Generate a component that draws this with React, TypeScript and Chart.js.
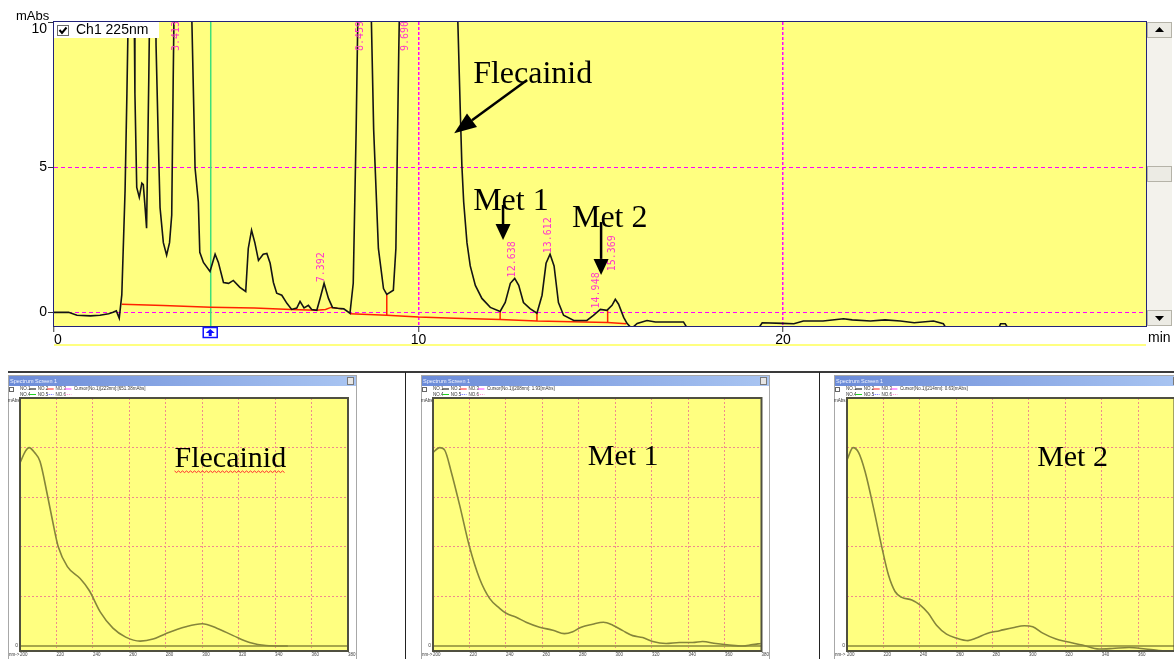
import React, { useEffect, useRef } from 'react';
import { Chart, registerables } from 'chart.js';

Chart.register(...registerables);

const YELLOW = '#ffff80';

// ================= Chromatogram, channel 1 (225 nm) =================
const retentionTimes = [
  0.0, 0.4, 0.63, 1.0, 1.26, 1.5, 1.62, 1.71, 1.79, 1.86,
  1.95, 2.0, 2.04, 2.12, 2.2, 2.22, 2.27, 2.34, 2.41, 2.45,
  2.5, 2.54, 2.6, 2.64, 2.72, 2.78, 2.8, 2.86, 2.91, 3.0,
  3.09, 3.17, 3.23, 3.27, 3.3, 3.42, 3.75, 3.78, 3.87, 3.96,
  4.0, 4.1, 4.28, 4.42, 4.51, 4.65, 4.79, 4.92, 5.1, 5.26,
  5.33, 5.42, 5.51, 5.61, 5.74, 5.84, 5.93, 6.02, 6.11, 6.25,
  6.39, 6.52, 6.66, 6.75, 6.86, 6.98, 7.07, 7.21, 7.3, 7.41,
  7.53, 7.64, 7.78, 7.95, 8.12, 8.21, 8.29, 8.34, 8.5, 8.7,
  8.77, 8.9, 9.04, 9.13, 9.31, 9.38, 9.46, 9.5, 9.7, 10.3,
  11.0, 11.08, 11.15, 11.19, 11.24, 11.33, 11.42, 11.56, 11.74, 11.97,
  12.24, 12.38, 12.52, 12.64, 12.75, 12.88, 13.06, 13.25, 13.39, 13.5,
  13.61, 13.72, 13.84, 13.98, 14.26, 14.62, 14.8, 14.99, 15.17, 15.31,
  15.4, 15.49, 15.63, 15.72, 15.85, 16.0, 16.27, 16.5, 17.27, 17.4,
  19.3, 19.43, 20.0, 20.3, 20.56, 21.1, 21.66, 21.9, 22.4, 22.8,
  23.22, 23.6, 24.13, 24.4, 24.5, 25.9, 25.97, 26.1, 26.2, 29.96,
];
const absorbance = [
  0.0, 0.0, -0.1, -0.12, -0.1, -0.05, 0.0, 0.05, -0.2, 0.6,
  4.2, 7.5, 10.5, 25, 10.5, 7.55, 4.3, 3.96, 4.45, 4.4,
  3.6, 2.9, 8, 12, 30, 12, 9.2, 6, 3.6, 2.4,
  1.97, 2.4, 3.35, 8, 11, 40, 12, 10.2, 4.97, 3.8,
  2.07, 1.72, 1.41, 2.0, 1.72, 1.03, 1.0, 1.1, 0.86, 0.72,
  2.2, 2.83, 2.4, 1.79, 2.0, 2.03, 1.69, 1.03, 0.66, 0.59,
  0.31, 0.1, 0.15, 0.38, 0.15, 0.24, 0.1, 0.07, 0.48, 1.0,
  0.48, 0.17, 0.14, 0.12, -0.03, 1.0, 6.3, 10.5, 40, 10.5,
  6.3, 2.2, 0.82, 0.62, 0.76, 2.2, 9.1, 12, 50, 60,
  15, 10, 6.8, 5.07, 3.8, 2.4, 1.6, 0.93, 0.48, 0.17,
  0.03, 0.34, 1.0, 1.17, 0.93, 0.34, 0.13, -0.03, 0.59, 1.69,
  2.0, 1.6, 0.34, -0.1, -0.28, -0.28, -0.1, 0.1, 0.07, 0.24,
  0.45, 0.28, -0.17, -0.38, -0.55, -0.38, -0.28, -0.33, -0.33, -0.6,
  -0.6, -0.36, -0.38, -0.39, -0.3, -0.3, -0.22, -0.26, -0.3, -0.26,
  -0.3, -0.36, -0.3, -0.39, -0.6, -0.6, -0.39, -0.39, -0.6, -0.6,
];

// integration baseline (null = break between baseline segments)
const baselineTimes = [1.86, 3.0, 4.3, 5.5, 6.5, 7.2, 7.45, 7.6, 7.9, 8.0, 8.12, 9.13, 10.0, 11.0, 12.24, 13.25, 14.2, 15.19, 15.7];
const baselineValues = [0.28, 0.24, 0.18, 0.15, 0.1, 0.07, 0.1, 0.17, 0.12, null, -0.05, -0.1, -0.16, -0.2, -0.25, -0.3, -0.32, -0.35, -0.39];

// peak start/end drop lines
const dropTimes = [9.13, 12.24, 13.25, 15.19];
const dropTops = [0.62, 0.03, -0.03, 0.07];
const dropBottoms = [-0.1, -0.25, -0.3, -0.35];

const cursorTime = 4.3;

// peak retention times and apex heights (>=10 = off scale)
const peakTimes = [3.413, 7.392, 8.459, 9.69, 12.638, 13.612, 14.948, 15.369];
const peakHeights = [10, 1.0, 10, 10, 1.17, 2.0, 0.1, 0.45];

const timeTicks = [0, 10, 20];
const absTicks = [0, 5, 10];

// annotations (text anchor + arrow from -> to, in min / mAbs)
const annotationLabels = ['Flecainid', 'Met 1', 'Met 2'];
const annotationTextT = [11.5, 11.5, 14.21];
const annotationTextV = [7.9, 3.53, 2.94];
const arrowFromT = [12.98, 12.32, 15.01];
const arrowFromV = [8.0, 3.7, 3.11];
const arrowToT = [10.98, 12.32, 15.01];
const arrowToV = [6.17, 2.49, 1.29];

// ================= UV spectra =================
const wavelengthsFlecainid = [200, 203, 205, 208, 211, 215, 218, 221, 226, 233, 238, 244, 251, 258, 266, 273, 280, 291, 300, 308, 317, 326, 335, 347];
const spectrumFlecainid = [3.69, 3.93, 4.0, 3.9, 3.72, 3.05, 2.5, 2.0, 1.6, 1.36, 1.12, 0.69, 0.36, 0.18, 0.1, 0.14, 0.25, 0.39, 0.45, 0.36, 0.21, 0.07, 0.01, 0.0];

const wavelengthsMet1 = [200, 203.6, 206.4, 210, 214.6, 220, 225.5, 231, 236.5, 240.1, 245.6, 251, 258.4, 265.7, 272, 276.6, 281.2, 287.5, 293.4, 298.5, 304, 309.4, 314.9, 320.4, 327.7, 335, 342.3, 347.7, 355, 362.3, 369.6, 375.1, 379.6];
const spectrumMet1 = [3.9, 4.0, 3.95, 3.51, 2.84, 2.0, 1.36, 0.96, 0.76, 0.66, 0.58, 0.48, 0.38, 0.32, 0.25, 0.29, 0.38, 0.44, 0.48, 0.42, 0.31, 0.21, 0.17, 0.09, 0.05, 0.07, 0.07, 0.09, 0.05, 0.02, 0.0, 0.03, 0.05];

const wavelengthsMet2 = [200, 203.3, 206.4, 210, 214.6, 219.1, 222.8, 226.4, 230.1, 235.6, 240.1, 244.7, 249.2, 254.7, 260.2, 266.5, 271.1, 276.6, 283.9, 291.2, 297.5, 302.1, 307.6, 314.9, 320.3, 329.4, 338.6, 345.9, 355, 364.1, 371.4, 378.7];
const spectrumMet2 = [3.75, 4.0, 3.9, 3.51, 2.78, 2.0, 1.43, 1.1, 0.98, 0.93, 0.83, 0.66, 0.42, 0.24, 0.16, 0.11, 0.16, 0.25, 0.31, 0.37, 0.41, 0.39, 0.26, 0.14, 0.09, 0.02, -0.06, -0.05, -0.03, -0.06, -0.09, -0.1];

const nmTicks = [200, 220, 240, 260, 280, 300, 320, 340, 360, 380];
const spectrumAbsTicks = [0, 1, 2, 3, 4];

// ---------------------------------------------------------------
function drawArrow(ctx: CanvasRenderingContext2D, x1: number, y1: number, x2: number, y2: number, headLen: number, headW: number, lw: number) {
  const ang = Math.atan2(y2 - y1, x2 - x1);
  const bx = x2 - headLen * Math.cos(ang);
  const by = y2 - headLen * Math.sin(ang);
  ctx.lineWidth = lw;
  ctx.beginPath();
  ctx.moveTo(x1, y1);
  ctx.lineTo(bx, by);
  ctx.stroke();
  ctx.beginPath();
  ctx.moveTo(x2, y2);
  ctx.lineTo(bx + (headW / 2) * Math.sin(ang), by - (headW / 2) * Math.cos(ang));
  ctx.lineTo(bx - (headW / 2) * Math.sin(ang), by + (headW / 2) * Math.cos(ang));
  ctx.closePath();
  ctx.fill();
}

const mainDecor = {
  id: 'mainDecor',
  beforeDraw(chart: any) {
    const { ctx, chartArea: a } = chart;
    ctx.save();
    ctx.fillStyle = '#ffffff';
    ctx.fillRect(0, 0, chart.width, chart.height);
    ctx.fillStyle = YELLOW;
    ctx.fillRect(a.left, a.top, a.right - a.left, a.bottom - a.top);
    ctx.restore();
  },
  afterDraw(chart: any) {
    const { ctx, chartArea: a, scales } = chart;
    const X = (t: number) => scales.x.getPixelForValue(t);
    const Y = (v: number) => scales.y.getPixelForValue(v);
    ctx.save();

    // frame
    ctx.strokeStyle = '#23237a';
    ctx.lineWidth = 1;
    ctx.strokeRect(a.left - 0.5, a.top - 0.5, a.right - a.left + 1, a.bottom - a.top + 1);

    // light strip below axis
    ctx.fillStyle = YELLOW;
    ctx.fillRect(a.left, 344, a.right - a.left, 2);

    // channel legend box
    ctx.fillStyle = '#ffffff';
    ctx.fillRect(a.left, a.top, 105, 16);
    ctx.strokeStyle = '#6b6b6b';
    ctx.lineWidth = 1;
    ctx.strokeRect(57.5, 25.5, 11, 10);
    ctx.strokeStyle = '#000';
    ctx.lineWidth = 2;
    ctx.beginPath();
    ctx.moveTo(59.5, 30);
    ctx.lineTo(62, 33);
    ctx.lineTo(66.5, 27.5);
    ctx.stroke();
    ctx.fillStyle = '#000';
    ctx.font = '14px "Liberation Sans"';
    ctx.textBaseline = 'middle';
    ctx.textAlign = 'left';
    ctx.fillText('Ch1 225nm', 76, 30.5);

    // axis units
    ctx.font = '13px "Liberation Sans"';
    ctx.textBaseline = 'alphabetic';
    ctx.fillText('mAbs', 16, 20);
    ctx.font = '14px "Liberation Sans"';
    ctx.fillText('min', 1148, 342);

    // scrollbar
    const sx = a.right + 1, sw = 25;
    ctx.fillStyle = '#f3f2ec';
    ctx.fillRect(sx, a.top, sw, a.bottom - a.top);
    const btn = (y: number, h: number) => {
      ctx.fillStyle = '#ecebe4';
      ctx.fillRect(sx, y, sw, h);
      ctx.strokeStyle = '#b5b3a8';
      ctx.lineWidth = 1;
      ctx.strokeRect(sx + 0.5, y + 0.5, sw - 1, h - 1);
    };
    btn(a.top, 16);
    btn(166, 16);
    btn(a.bottom - 16, 16);
    ctx.fillStyle = '#000';
    ctx.beginPath();
    ctx.moveTo(sx + 12.5, a.top + 5);
    ctx.lineTo(sx + 17, a.top + 10);
    ctx.lineTo(sx + 8, a.top + 10);
    ctx.closePath();
    ctx.fill();
    ctx.beginPath();
    ctx.moveTo(sx + 12.5, a.bottom - 5);
    ctx.lineTo(sx + 17, a.bottom - 10);
    ctx.lineTo(sx + 8, a.bottom - 10);
    ctx.closePath();
    ctx.fill();

    // cursor marker below axis
    const cx = X(cursorTime);
    ctx.fillStyle = '#ffffff';
    ctx.fillRect(cx - 8, a.bottom + 1, 15, 11);
    ctx.strokeStyle = '#1010ff';
    ctx.lineWidth = 1.5;
    ctx.strokeRect(cx - 7.5, a.bottom + 1.5, 14, 10);
    ctx.fillStyle = '#1010ff';
    ctx.beginPath();
    ctx.moveTo(cx - 0.5, a.bottom + 3);
    ctx.lineTo(cx + 4, a.bottom + 7);
    ctx.lineTo(cx - 5, a.bottom + 7);
    ctx.closePath();
    ctx.fill();
    ctx.fillRect(cx - 2, a.bottom + 7, 3, 3);

    // peak labels
    ctx.save();
    ctx.beginPath();
    ctx.rect(a.left, a.top, a.right - a.left, a.bottom - a.top);
    ctx.clip();
    ctx.fillStyle = '#ff33cc';
    ctx.font = '10px "DejaVu Sans Mono"';
    ctx.textAlign = 'left';
    ctx.textBaseline = 'middle';
    let prevX = -100;
    peakTimes.forEach((t, i) => {
      const x = X(t) - 2;
      let bottom = peakHeights[i] >= 10 ? a.top + 29 : Y(peakHeights[i]) - 1;
      if (x - prevX < 20) bottom -= 27;
      prevX = x;
      ctx.save();
      ctx.translate(x, bottom);
      ctx.rotate(-Math.PI / 2);
      ctx.fillText(t.toFixed(3), 0, 0);
      ctx.restore();
    });
    ctx.restore();

    // annotations
    ctx.fillStyle = '#000';
    ctx.strokeStyle = '#000';
    ctx.font = '32px "Liberation Serif"';
    ctx.textAlign = 'left';
    ctx.textBaseline = 'alphabetic';
    annotationLabels.forEach((lbl, i) => {
      ctx.fillText(lbl, X(annotationTextT[i]), Y(annotationTextV[i]));
      const big = i === 0;
      drawArrow(ctx, X(arrowFromT[i]), Y(arrowFromV[i]), X(arrowToT[i]), Y(arrowToV[i]), big ? 22 : 16, big ? 17 : 15, big ? 2.5 : 2.5);
    });
    ctx.restore();
  },
};

function MainChromatogram() {
  const ref = useRef<HTMLCanvasElement>(null);
  useEffect(() => {
    const canvas = ref.current!;
    const trace = retentionTimes.map((t, i) => ({ x: t, y: absorbance[i] }));
    const baseline = baselineTimes.map((t, i) => ({ x: t, y: baselineValues[i] }));
    const drops: any[] = [];
    dropTimes.forEach((t, i) => {
      drops.push({ x: t, y: dropTops[i] }, { x: t, y: dropBottoms[i] }, { x: t, y: null });
    });
    const cursor = [{ x: cursorTime, y: -0.47 }, { x: cursorTime, y: 10 }];
    const chart = new Chart(canvas, {
      type: 'line',
      data: {
        datasets: [
          { data: trace, borderColor: '#141414', borderWidth: 1.6, pointRadius: 0, tension: 0 },
          { data: baseline, borderColor: '#ff2200', borderWidth: 1.5, pointRadius: 0, spanGaps: false },
          { data: drops, borderColor: '#ff2200', borderWidth: 1.5, pointRadius: 0, spanGaps: false },
          { data: cursor, borderColor: '#3ee07a', borderWidth: 1.5, pointRadius: 0 },
        ] as any,
      },
      options: {
        animation: false,
        responsive: false,
        events: [],
        layout: { padding: { top: 22, right: 28, left: 0, bottom: 0 } },
        plugins: { legend: { display: false }, tooltip: { enabled: false } },
        scales: {
          x: {
            type: 'linear',
            min: 0,
            max: 29.96,
            afterBuildTicks: (s: any) => { s.ticks = timeTicks.map((v) => ({ value: v })); },
            afterFit: (s: any) => { s.height = 24; },
            ticks: {
              font: { family: 'Liberation Sans', size: 14 },
              color: '#000',
              padding: 0,
              maxRotation: 0,
              autoSkip: false,
              callback: (v: any) => (v === 0 ? '  0' : String(v)),
            },
            grid: {
              color: (c: any) => (c.tick && c.tick.value === 0 ? 'rgba(0,0,0,0)' : '#ff00ff'),
              lineWidth: 1.5,
              tickColor: '#333',
              tickLength: 6,
              tickWidth: 1,
            },
            border: { display: false, dash: [3, 2] },
          },
          y: {
            min: -0.47,
            max: 10,
            afterBuildTicks: (s: any) => { s.ticks = absTicks.map((v) => ({ value: v })); },
            afterFit: (s: any) => { s.width = 54; },
            ticks: {
              font: { family: 'Liberation Sans', size: 14, lineHeight: 1 },
              color: '#000',
              padding: 1,
              callback: (v: any) => (v === 10 ? ['', '10'] : String(v)),
            },
            grid: {
              color: (c: any) => (c.tick && c.tick.value === 10 ? 'rgba(0,0,0,0)' : '#ff00ff'),
              lineWidth: 1,
              tickColor: '#333',
              tickLength: 6,
              tickWidth: 1,
            },
            border: { display: false, dash: [4, 3] },
          },
        },
      } as any,
      plugins: [mainDecor],
    });
    return () => chart.destroy();
  }, []);
  return (
    <div style={{ position: 'absolute', left: 0, top: 0, width: 1174, height: 350 }}>
      <canvas ref={ref} width={1174} height={350} style={{ display: 'block' }} />
    </div>
  );
}

type PanelProps = {
  left: number;
  clipWidth: number;
  plotLeft: number;
  plotRight: number;
  wavelengths: number[];
  values: number[];
  label: string;
  labelNm: number;
  labelAbs: number;
  cursorText: string;
  underline: boolean;
};

function SpectrumPanel(p: PanelProps) {
  const ref = useRef<HTMLCanvasElement>(null);
  useEffect(() => {
    const canvas = ref.current!;
    const W = 349, H = 284;
    const decor = {
      id: 'specDecor',
      beforeDraw(chart: any) {
        const { ctx, chartArea: a } = chart;
        ctx.save();
        ctx.fillStyle = '#ffffff';
        ctx.fillRect(0, 0, W, H);
        ctx.strokeStyle = '#a8a8a8';
        ctx.lineWidth = 1;
        ctx.strokeRect(0.5, 0.5, W - 1, H + 4);
        const g = ctx.createLinearGradient(1, 0, W - 1, 0);
        g.addColorStop(0, '#6b8bd8');
        g.addColorStop(1, '#a9c5f2');
        ctx.fillStyle = g;
        ctx.fillRect(1, 1, W - 2, 10);
        ctx.fillStyle = '#f2f5ff';
        ctx.font = '5.5px "Liberation Sans"';
        ctx.textBaseline = 'middle';
        ctx.textAlign = 'left';
        ctx.fillText('Spectrum Screen 1', 2, 6);
        ctx.fillStyle = '#e6e6e6';
        ctx.fillRect(W - 10, 2, 7, 8);
        ctx.strokeStyle = '#7a7a7a';
        ctx.strokeRect(W - 9.5, 2.5, 6, 7);

        // legend
        ctx.strokeStyle = '#666';
        ctx.strokeRect(1.5, 12.5, 4, 4);
        ctx.font = '4.5px "Liberation Sans"';
        const row = (y: number, names: string[], colors: string[], dashes: number[][]) => {
          names.forEach((n, i) => {
            const x = 12 + i * 17.7;
            ctx.fillStyle = '#333';
            ctx.fillText(n, x, y);
            ctx.strokeStyle = colors[i];
            ctx.lineWidth = 1;
            ctx.setLineDash(dashes[i]);
            ctx.beginPath();
            ctx.moveTo(x + 9.5, y);
            ctx.lineTo(x + 16, y);
            ctx.stroke();
            ctx.setLineDash([]);
          });
        };
        row(14, ['NO.1', 'NO.2', 'NO.3'], ['#000', '#ff2020', '#ff40ff'], [[], [], []]);
        row(19.5, ['NO.4', 'NO.5', 'NO.6'], ['#20d020', '#6a6aff', '#ff90d0'], [[], [1, 1], [1, 1]]);
        ctx.fillStyle = '#333';
        ctx.fillText(p.cursorText, 12 + 3 * 17.7 + 1, 14);
        ctx.fillText('mAbs', 0, 25.5);
        ctx.fillText('nm->', 1, 279.5);

        ctx.fillStyle = YELLOW;
        ctx.fillRect(a.left, a.top, a.right - a.left, a.bottom - a.top);
        ctx.restore();
      },
      afterDraw(chart: any) {
        const { ctx, chartArea: a, scales } = chart;
        ctx.save();
        ctx.strokeStyle = '#505040';
        ctx.lineWidth = 2;
        ctx.strokeRect(a.left, a.top, a.right - a.left, a.bottom - a.top);
        const tx = scales.x.getPixelForValue(p.labelNm);
        const ty = scales.y.getPixelForValue(p.labelAbs);
        ctx.fillStyle = '#000';
        ctx.font = '30px "Liberation Serif"';
        ctx.textAlign = 'left';
        ctx.textBaseline = 'alphabetic';
        ctx.fillText(p.label, tx, ty);
        if (p.underline) {
          const w = ctx.measureText(p.label).width;
          ctx.strokeStyle = '#ff2a2a';
          ctx.lineWidth = 1;
          ctx.beginPath();
          for (let x = 0; x <= w; x += 2) {
            const y = ty + 4 + (Math.round(x / 2) % 2 === 0 ? 0 : 1.6);
            if (x === 0) ctx.moveTo(tx + x, y);
            else ctx.lineTo(tx + x, y);
          }
          ctx.stroke();
        }
        ctx.restore();
      },
    };
    const chart = new Chart(canvas, {
      type: 'line',
      data: {
        datasets: [
          {
            data: p.wavelengths.map((w, i) => ({ x: w, y: p.values[i] })),
            borderColor: '#85853a',
            borderWidth: 1.6,
            pointRadius: 0,
            cubicInterpolationMode: 'monotone',
          },
          {
            data: [{ x: nmTicks[0], y: 0 }, { x: nmTicks[nmTicks.length - 1], y: 0 }],
            borderColor: '#a6a64a',
            borderWidth: 2,
            pointRadius: 0,
          },
        ] as any,
      },
      options: {
        animation: false,
        responsive: false,
        events: [],
        layout: { padding: { top: 23, right: W - p.plotRight, left: 0, bottom: 0 } },
        plugins: { legend: { display: false }, tooltip: { enabled: false } },
        scales: {
          x: {
            type: 'linear',
            min: 200,
            max: 380,
            afterBuildTicks: (s: any) => { s.ticks = nmTicks.map((v) => ({ value: v })); },
            afterFit: (s: any) => { s.height = 8; },
            ticks: {
              font: { family: 'Liberation Sans', size: 4.5 },
              color: '#444',
              padding: 1,
              align: 'start',
              maxRotation: 0,
              autoSkip: false,
            },
            grid: { color: '#f08c8c', lineWidth: 1, drawTicks: false },
            border: { display: false, dash: [2, 2] },
          },
          y: {
            min: -0.1,
            max: 5,
            afterBuildTicks: (s: any) => { s.ticks = spectrumAbsTicks.map((v) => ({ value: v })); },
            afterFit: (s: any) => { s.width = p.plotLeft; },
            ticks: {
              font: { family: 'Liberation Sans', size: 5 },
              color: '#444',
              padding: 2,
              callback: (v: any) => (v === 0 ? '0' : ''),
            },
            grid: {
              color: (c: any) => (c.tick && c.tick.value === 0 ? 'rgba(0,0,0,0)' : '#f08c8c'),
              lineWidth: 1,
              drawTicks: false,
            },
            border: { display: false, dash: [2, 2] },
          },
        },
      } as any,
      plugins: [decor],
    });
    return () => chart.destroy();
  }, []);
  return (
    <div style={{ position: 'absolute', left: p.left, top: 375, width: p.clipWidth, height: 284, overflow: 'hidden' }}>
      <canvas ref={ref} width={349} height={284} style={{ display: 'block' }} />
    </div>
  );
}

export default function App() {
  return (
    <div style={{ position: 'absolute', left: 0, top: 0, width: 1174, height: 659, background: '#fff', overflow: 'hidden' }}>
      <MainChromatogram />
      <div style={{ position: 'absolute', left: 8, top: 371, width: 1166, height: 2, background: '#3a3a3a' }} />
      <div style={{ position: 'absolute', left: 405, top: 372, width: 1, height: 287, background: '#222' }} />
      <div style={{ position: 'absolute', left: 819, top: 372, width: 1, height: 287, background: '#222' }} />
      <SpectrumPanel
        left={8}
        clipWidth={349}
        plotLeft={12}
        plotRight={340}
        wavelengths={wavelengthsFlecainid}
        values={spectrumFlecainid}
        label="Flecainid"
        labelNm={284.8}
        labelAbs={3.61}
        cursorText="Cursor(No.1)[223nm]:[651.38mAbs]"
        underline={true}
      />
      <SpectrumPanel
        left={421}
        clipWidth={349}
        plotLeft={12}
        plotRight={341}
        wavelengths={wavelengthsMet1}
        values={spectrumMet1}
        label="Met 1"
        labelNm={284.8}
        labelAbs={3.65}
        cursorText="Cursor(No.1)[208nm]: 1.93[mAbs]"
        underline={false}
      />
      <SpectrumPanel
        left={834}
        clipWidth={340}
        plotLeft={13}
        plotRight={342}
        wavelengths={wavelengthsMet2}
        values={spectrumMet2}
        label="Met 2"
        labelNm={304.5}
        labelAbs={3.63}
        cursorText="Cursor(No.1)[214nm]: 0.63[mAbs]"
        underline={false}
      />
    </div>
  );
}
